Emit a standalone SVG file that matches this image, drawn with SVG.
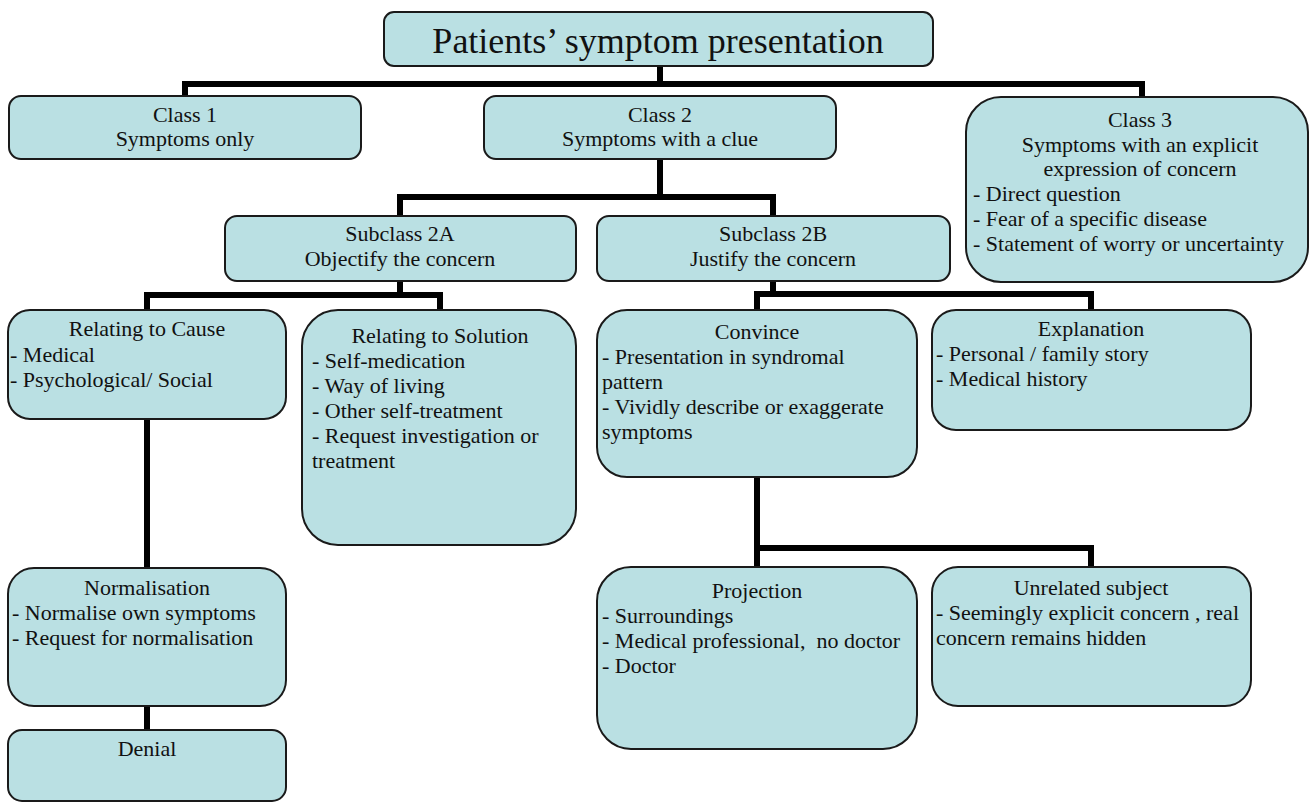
<svg xmlns="http://www.w3.org/2000/svg" width="1310" height="803" viewBox="0 0 1310 803">
<style>
.box{fill:#bae0e3;stroke:#1a1a1a;stroke-width:2}
.c{fill:none;stroke:#000;stroke-width:6;stroke-linecap:butt;stroke-linejoin:miter}
text{font-family:"Liberation Serif","Times New Roman",serif;font-size:22px;fill:#111}
.m{text-anchor:middle}
.t{font-size:36px}
</style>
<rect width="1310" height="803" fill="#fff"/>
<g id="connectors">
<path class="c" d="M660 66V84M185 97V84H1142V97"/>
<path class="c" d="M660 160V197M400 216V197H773V216"/>
<path class="c" d="M400 281V295M147 310V295H440V310"/>
<path class="c" d="M773 281V294M757 310V294H1091V310"/>
<path class="c" d="M147 419V568M147 706V730"/>
<path class="c" d="M757 477V548M757 567V548H1091V567"/>
</g>
<g id="title"><rect class="box" x="384" y="12" width="549" height="54" rx="10"/><text class="t m" x="658" y="53">Patients’ symptom presentation</text></g>
<g id="class1"><rect class="box" x="9" y="96" width="352" height="63" rx="12"/><text class="m" x="185" y="122">Class 1</text><text class="m" x="185" y="146">Symptoms only</text></g>
<g id="class2"><rect class="box" x="484" y="96" width="352" height="63" rx="12"/><text class="m" x="660" y="122">Class 2</text><text class="m" x="660" y="146">Symptoms with a clue</text></g>
<g id="class3"><rect class="box" x="966" y="97" width="342" height="185" rx="35"/><text class="m" x="1140" y="127">Class 3</text><text class="m" x="1140" y="152">Symptoms with an explicit</text><text class="m" x="1140" y="176">expression of concern</text><text x="973" y="201">- Direct question</text><text x="973" y="226">- Fear of a specific disease</text><text x="973" y="251">- Statement of worry or uncertainty</text></g>
<g id="sub2a"><rect class="box" x="225" y="216" width="351" height="65" rx="12"/><text class="m" x="400" y="241">Subclass 2A</text><text class="m" x="400" y="266">Objectify the concern</text></g>
<g id="sub2b"><rect class="box" x="597" y="216" width="353" height="65" rx="12"/><text class="m" x="773" y="241">Subclass 2B</text><text class="m" x="773" y="266">Justify the concern</text></g>
<g id="cause"><rect class="box" x="8" y="310" width="278" height="109" rx="22"/><text class="m" x="147" y="336">Relating to Cause</text><text x="10" y="362">- Medical</text><text x="10" y="387">- Psychological/ Social</text></g>
<g id="solution"><rect class="box" x="302" y="310" width="274" height="235" rx="36"/><text class="m" x="440" y="343">Relating to Solution</text><text x="312" y="368">- Self-medication</text><text x="312" y="393">- Way of living</text><text x="312" y="418">- Other self-treatment</text><text x="312" y="443">- Request investigation or</text><text x="312" y="468">treatment</text></g>
<g id="convince"><rect class="box" x="597" y="310" width="320" height="167" rx="30"/><text class="m" x="757" y="339">Convince</text><text x="602" y="364">- Presentation in syndromal</text><text x="602" y="389">pattern</text><text x="602" y="414">- Vividly describe or exaggerate</text><text x="602" y="439">symptoms</text></g>
<g id="explanation"><rect class="box" x="932" y="310" width="319" height="120" rx="24"/><text class="m" x="1091" y="336">Explanation</text><text x="936" y="361">- Personal / family story</text><text x="936" y="386">- Medical history</text></g>
<g id="normalisation"><rect class="box" x="8" y="568" width="278" height="138" rx="26"/><text class="m" x="147" y="595">Normalisation</text><text x="12" y="620">- Normalise own symptoms</text><text x="12" y="645">- Request for normalisation</text></g>
<g id="denial"><rect class="box" x="8" y="730" width="278" height="71" rx="14"/><text class="m" x="147" y="756">Denial</text></g>
<g id="projection"><rect class="box" x="597" y="567" width="320" height="182" rx="34"/><text class="m" x="757" y="598">Projection</text><text x="602" y="623">- Surroundings</text><text x="602" y="648" xml:space="preserve">- Medical professional,  no doctor</text><text x="602" y="673">- Doctor</text></g>
<g id="unrelated"><rect class="box" x="932" y="567" width="319" height="139" rx="26"/><text class="m" x="1091" y="595">Unrelated subject</text><text x="936" y="620">- Seemingly explicit concern , real</text><text x="936" y="645">concern remains hidden</text></g>
</svg>
